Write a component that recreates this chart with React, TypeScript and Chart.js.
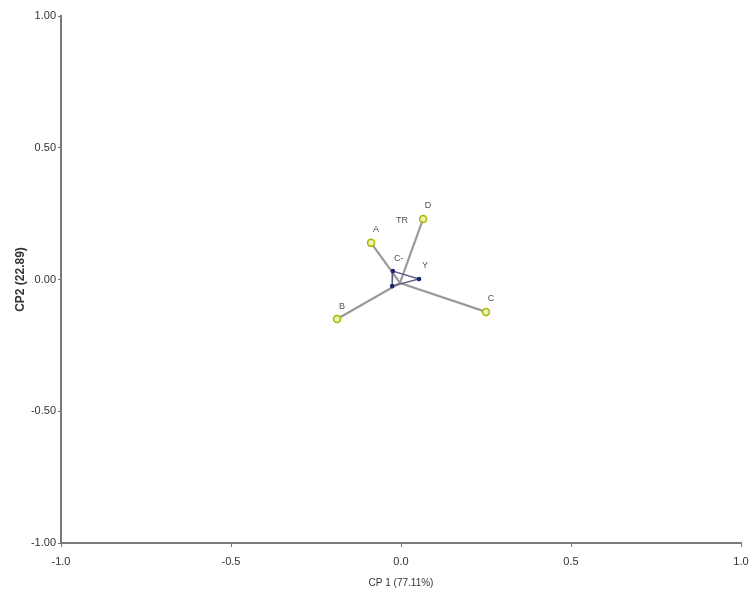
import React, { useEffect, useRef } from "react";
import { Chart, registerables } from "chart.js";

Chart.register(...registerables);

// Objects (treatments) - PCA scores
const objNames = ["A", "B", "C", "D"];
const objX = [-0.088, -0.188, 0.25, 0.065];
const objY = [0.139, -0.15, -0.123, 0.23];

// Convergence point of object vectors
const centerX = -0.003;
const centerY = -0.013;

// Variable points
const varNames = ["C-", "", "Y"];
const varX = [-0.024, -0.026, 0.053];
const varY = [0.032, -0.025, 0.002];

// Free-standing label
const extraNames = ["TR"];
const extraX = [0.003];
const extraY = [0.222];

const xTicks = [-1.0, -0.5, 0.0, 0.5, 1.0];
const yTicks = [-1.0, -0.5, 0.0, 0.5, 1.0];

const labelPlugin = {
  id: "pointLabels",
  afterDatasetsDraw(chart: any) {
    const { ctx, scales } = chart;
    const xs = scales.x;
    const ys = scales.y;
    ctx.save();
    ctx.font = "9px 'Liberation Sans', Arial, sans-serif";
    ctx.fillStyle = "#555";
    ctx.textAlign = "center";
    ctx.textBaseline = "middle";
    objNames.forEach((n, i) => {
      ctx.fillText(n, xs.getPixelForValue(objX[i]) + 5, ys.getPixelForValue(objY[i]) - 13);
    });
    varNames.forEach((n, i) => {
      if (!n) return;
      ctx.fillText(n, xs.getPixelForValue(varX[i]) + 6, ys.getPixelForValue(varY[i]) - 13);
    });
    extraNames.forEach((n, i) => {
      ctx.fillText(n, xs.getPixelForValue(extraX[i]), ys.getPixelForValue(extraY[i]));
    });
    ctx.restore();
  },
};

export default function App() {
  const ref = useRef<HTMLCanvasElement | null>(null);
  useEffect(() => {
    if (!ref.current) return;
    const lineSets = objNames.map((n, i) => ({
      type: "line" as const,
      label: "vec " + n,
      data: [
        { x: objX[i], y: objY[i] },
        { x: centerX, y: centerY },
      ],
      borderColor: "#9a9a9a",
      borderWidth: 2.2,
      pointRadius: 0,
      showLine: true,
      order: 3,
    }));
    const tri = {
      type: "line" as const,
      label: "triangle",
      data: [0, 1, 2, 0].map((k) => ({ x: varX[k], y: varY[k] })),
      borderColor: "#5a5f80",
      borderWidth: 1.4,
      fill: false,
      pointRadius: 0,
      showLine: true,
      order: 2,
    };
    const objPts = {
      type: "scatter" as const,
      label: "objects",
      data: objX.map((x, i) => ({ x, y: objY[i] })),
      pointRadius: 3.5,
      pointBorderWidth: 1.5,
      pointBorderColor: "#a8b800",
      pointBackgroundColor: "#eef2b0",
      order: 1,
    };
    const varPts = {
      type: "scatter" as const,
      label: "variables",
      data: varX.map((x, i) => ({ x, y: varY[i] })),
      pointRadius: 2.3,
      pointBorderWidth: 0,
      pointBackgroundColor: "#1c2370",
      order: 0,
    };
    const chart = new Chart(ref.current, {
      type: "scatter",
      data: { datasets: [...lineSets, tri, objPts, varPts] as any },
      options: {
        animation: false,
        responsive: false,
        maintainAspectRatio: false,
        layout: { padding: { top: 16, right: 11, left: 0, bottom: 0 } },
        plugins: { legend: { display: false }, tooltip: { enabled: false } },
        scales: {
          x: {
            type: "linear",
            min: -1,
            max: 1,
            afterBuildTicks: (s: any) => {
              s.ticks = xTicks.map((v) => ({ value: v }));
            },
            afterFit: (s: any) => {
              s.height = 53;
              s.paddingLeft = 0;
              s.paddingRight = 0;
            },
            ticks: {
              callback: (v: any) => Number(v).toFixed(1),
              font: { family: "'Liberation Sans', Arial, sans-serif", size: 11 },
              color: "#333",
              padding: 8,
              maxRotation: 0,
            },
            grid: { display: true, drawOnChartArea: false, drawTicks: true, tickLength: 4, color: "#777", lineWidth: 1 },
            border: { display: true, color: "#7a7a7a", width: 2 },
            title: {
              display: true,
              text: "CP 1 (77.11%)",
              font: { family: "'Liberation Sans', Arial, sans-serif", size: 10 },
              color: "#333",
              padding: { top: 0, bottom: 7 },
            },
          },
          y: {
            type: "linear",
            min: -1,
            max: 1,
            afterBuildTicks: (s: any) => {
              s.ticks = yTicks.map((v) => ({ value: v }));
            },
            afterFit: (s: any) => {
              s.width = 61;
              s.paddingTop = 0;
              s.paddingBottom = 0;
            },
            ticks: {
              callback: (v: any) => Number(v).toFixed(2),
              font: { family: "'Liberation Sans', Arial, sans-serif", size: 11 },
              color: "#333",
              padding: 2,
            },
            grid: { display: true, drawOnChartArea: false, drawTicks: true, tickLength: 3, color: "#777", lineWidth: 1 },
            border: { display: true, color: "#7a7a7a", width: 2 },
            title: {
              display: true,
              text: "CP2 (22.89)",
              font: { family: "'Liberation Sans', Arial, sans-serif", size: 12, weight: "bold" },
              color: "#333",
              padding: { top: 13, bottom: 0 },
            },
          },
        },
      },
      plugins: [labelPlugin],
    });
    return () => chart.destroy();
  }, []);
  return (
    <div style={{ position: "fixed", left: 0, top: 0, width: 752, height: 596, background: "#fff" }}>
      <canvas ref={ref} width={752} height={596} style={{ display: "block" }} />
    </div>
  );
}
